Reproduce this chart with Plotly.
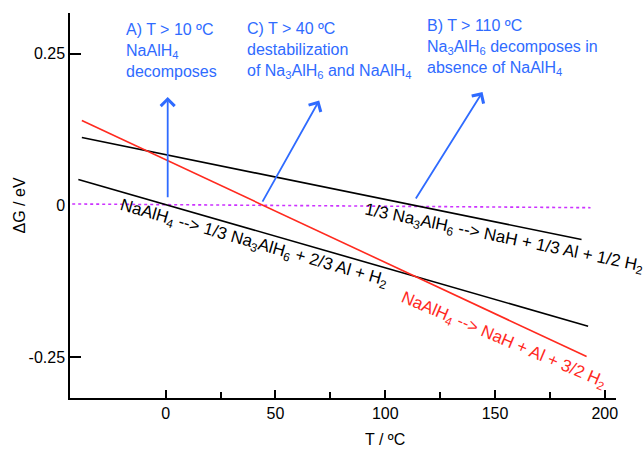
import plotly.graph_objects as go

# ---- data ----
T_na3alh6 = [-38.2, 189.4]          # 1/3 Na3AlH6 -> NaH + 1/3 Al + 1/2 H2
dG_na3alh6 = [0.112, -0.056]
T_nalh4_step = [-39.8, 192.4]       # NaAlH4 -> 1/3 Na3AlH6 + 2/3 Al + H2
dG_nalh4_step = [0.043, -0.199]
T_nalh4_direct = [-38.2, 191.7]     # NaAlH4 -> NaH + Al + 3/2 H2
dG_nalh4_direct = [0.140, -0.249]
T_zero = [-42.6, 193.5]             # dotted reference line
dG_zero = [0.0025, -0.0036]

x_tickvals = [0, 50, 100, 150, 200]
x_minor_tickvals = [25, 75, 125, 175]
y_tickvals = [0.25, 0, -0.25]
y_ticktext = ["0.25", "0", "-0.25"]

# arrows: (tail T, tail dG, head T, head dG)
arrow_A = [0.9, 0.011, 0.9, 0.179]
arrow_C = [43.7, 0.004, 69.9, 0.173]
arrow_B = [113.5, 0.009, 144.3, 0.187]

FONT = "Liberation Sans, Arial, sans-serif"
BLUE = "#2f6bff"
RED = "#ff2a1f"
VIOLET = "#cc33ff"

fig = go.Figure()
fig.add_trace(go.Scatter(x=T_zero, y=dG_zero, mode="lines",
                         line=dict(color=VIOLET, width=1.6, dash="dot")))
fig.add_trace(go.Scatter(x=T_na3alh6, y=dG_na3alh6, mode="lines",
                         line=dict(color="black", width=1.6)))
fig.add_trace(go.Scatter(x=T_nalh4_step, y=dG_nalh4_step, mode="lines",
                         line=dict(color="black", width=1.6)))
fig.add_trace(go.Scatter(x=T_nalh4_direct, y=dG_nalh4_direct, mode="lines",
                         line=dict(color=RED, width=1.6)))

ann = []
for a in (arrow_A, arrow_C, arrow_B):
    ann.append(dict(x=a[2], y=a[3], ax=a[0], ay=a[1], xref="x", yref="y",
                    axref="x", ayref="y", text="", showarrow=True,
                    arrowhead=4, arrowsize=1.5, arrowwidth=1.8, arrowcolor=BLUE))

blue_font = dict(family=FONT, size=16, color=BLUE)
ann.append(dict(x=-18.8, y=0.2563, xref="x", yref="y", xanchor="left", yanchor="middle",
                align="left", showarrow=False, font=blue_font,
                text="A) T &gt; 10 ºC<br>NaAlH<sub>4</sub><br>decomposes"))
ann.append(dict(x=36.0, y=0.2563, xref="x", yref="y", xanchor="left", yanchor="middle",
                align="left", showarrow=False, font=blue_font,
                text="C) T &gt; 40 ºC<br>destabilization<br>of Na<sub>3</sub>AlH<sub>6</sub> and NaAlH<sub>4</sub>"))
ann.append(dict(x=118.0, y=0.2600, xref="x", yref="y", xanchor="left", yanchor="middle",
                align="left", showarrow=False, font=blue_font,
                text="B) T &gt; 110 ºC<br>Na<sub>3</sub>AlH<sub>6</sub> decomposes in<br>absence of NaAlH<sub>4</sub>"))

ann.append(dict(x=154.1, y=-0.0552, xref="x", yref="y", showarrow=False, textangle=11.6,
                xanchor="center", yanchor="middle",
                font=dict(family=FONT, size=17, color="black"),
                text="1/3 Na<sub>3</sub>AlH<sub>6</sub> --&gt; NaH + 1/3 Al + 1/2 H<sub>2</sub>"))
ann.append(dict(x=40.2, y=-0.0635, xref="x", yref="y", showarrow=False, textangle=16,
                xanchor="center", yanchor="middle",
                font=dict(family=FONT, size=17, color="black"),
                text="NaAlH<sub>4</sub> --&gt; 1/3 Na<sub>3</sub>AlH<sub>6</sub> + 2/3 Al + H<sub>2</sub>"))
ann.append(dict(x=154.0, y=-0.2234, xref="x", yref="y", showarrow=False, textangle=23,
                xanchor="center", yanchor="middle",
                font=dict(family=FONT, size=17, color=RED),
                text="NaAlH<sub>4</sub> --&gt; NaH + Al + 3/2 H<sub>2</sub>"))

# axis titles
ann.append(dict(x=0.577, y=-0.109, xref="paper", yref="paper", showarrow=False,
                xanchor="center", yanchor="middle",
                font=dict(family=FONT, size=16, color="black"), text="T / ºC"))
ann.append(dict(x=-0.0916, y=0.5, xref="paper", yref="paper", showarrow=False, textangle=-90,
                xanchor="center", yanchor="middle",
                font=dict(family=FONT, size=16, color="black"), text="ΔG / eV"))

fig.update_layout(
    width=644, height=455,
    margin=dict(l=70, r=28, t=13, b=57),
    paper_bgcolor="white", plot_bgcolor="white",
    showlegend=False,
    font=dict(family=FONT, size=16, color="black"),
    annotations=ann,
    xaxis=dict(range=[-43.6, 205.1], showgrid=False, zeroline=False,
               showline=True, linecolor="black", linewidth=1.5,
               ticks="inside", ticklen=8, tickwidth=1.5, tickcolor="black",
               tickmode="array", tickvals=x_tickvals,
               minor=dict(tickmode="array", tickvals=x_minor_tickvals, ticks="inside",
                          ticklen=6, tickwidth=1.5, tickcolor="black", showgrid=False),
               tickfont=dict(family=FONT, size=16, color="black")),
    yaxis=dict(range=[-0.3173, 0.3173], showgrid=False, zeroline=False,
               showline=True, linecolor="black", linewidth=1.5,
               ticks="", tickmode="array", tickvals=y_tickvals, ticktext=y_ticktext,
               minor=dict(tickmode="array", tickvals=[0.25, -0.25], ticks="inside",
                          ticklen=11, tickwidth=1.5, tickcolor="black", showgrid=False),
               ticklabelstandoff=0,
               tickfont=dict(family=FONT, size=16, color="black")),
)

fig.write_html("out.html",
               config={"displayModeBar": False},
               post_script="document.body.style.margin='0';document.body.style.overflow='hidden';")
